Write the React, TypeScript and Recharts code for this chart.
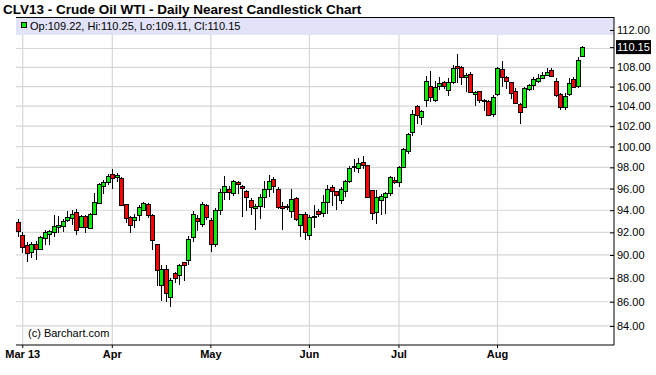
import { ComposedChart, Bar, XAxis, YAxis, CartesianGrid, ReferenceArea } from "recharts";

const UP = "#00F000";
const DOWN = "#FF0000";
const GRID = "#D6D6D6";
const FONT = "'Liberation Sans', Arial, sans-serif";

// daily OHLC, Feb 28 2013 .. Aug 28 2013
const opens = [
  92.9, 91.8, 90.9, 90.3, 90.95, 90.55, 91.5, 91.85, 92.0, 92.5,
  92.55, 93.1, 93.26, 93.8, 92.45, 93.5, 92.35, 93.7, 94.7, 96.2,
  96.65, 97.4, 97.05, 97.0, 94.55, 93.4, 93.1, 93.55, 94.05, 94.55,
  93.6, 90.95, 87.45, 88.8, 86.4, 88.4, 88.25, 89.35, 89.55, 91.6,
  93.3, 92.75, 94.45, 93.1, 91.0, 94.0, 95.65, 95.95, 95.6, 96.6,
  96.25, 95.8, 94.9, 94.2, 94.35, 95.2, 95.95, 96.9, 95.95, 94.35,
  94.25, 93.95, 95.1, 92.7, 93.64, 91.75, 93.38, 93.97, 93.73, 94.73,
  96.1, 95.75, 94.95, 95.8, 96.7, 98.0, 97.95, 98.55, 98.2, 95.88,
  93.88, 94.95, 95.2, 95.55, 96.85, 96.6, 98.05, 99.6, 101.45, 104.0,
  102.95, 104.65, 106.1, 104.65, 106.05, 106.45, 105.65, 106.5, 108.1, 108.0,
  107.0, 107.35, 105.25, 105.5, 104.6, 104.55, 103.2, 105.2, 107.85, 106.95,
  106.45, 105.6, 104.2, 103.95, 105.8, 106.15, 106.55, 106.9, 107.25, 107.75,
  106.6, 105.2, 103.9, 105.2, 106.8, 106.1, 109.22,
];
const highs = [
  93.2, 92.0, 91.1, 91.15, 91.2, 91.65, 92.2, 92.2, 93.6, 93.5,
  93.2, 93.9, 94.0, 94.1, 93.6, 93.6, 93.75, 95.6, 96.5, 96.8,
  97.35, 97.85, 97.45, 97.05, 94.6, 93.45, 93.7, 94.5, 94.8, 94.65,
  93.65, 91.0, 89.1, 89.1, 88.0, 88.55, 89.25, 89.4, 91.7, 93.9,
  93.6, 94.75, 94.6, 93.25, 94.2, 96.0, 97.15, 96.2, 96.85, 96.75,
  96.3, 95.9, 95.1, 94.55, 95.45, 96.7, 97.3, 97.1, 96.1, 94.8,
  94.6, 95.95, 95.25, 93.7, 93.8, 93.6, 94.5, 94.1, 95.4, 96.3,
  96.35, 95.8, 96.1, 96.8, 98.1, 98.8, 98.85, 99.1, 98.25, 95.9,
  95.9, 95.5, 95.7, 97.2, 97.05, 98.1, 99.85, 101.3, 103.6, 104.1,
  103.65, 107.1, 107.6, 106.6, 107.0, 106.6, 106.9, 108.2, 109.4, 108.1,
  107.4, 107.5, 105.6, 105.6, 104.7, 104.6, 105.1, 108.0, 108.7, 107.1,
  106.5, 105.85, 104.3, 106.0, 106.3, 107.0, 107.3, 107.55, 107.9, 107.9,
  106.9, 105.3, 105.3, 106.9, 106.95, 109.1, 110.25,
];
const lows = [
  91.6, 90.2, 89.35, 89.75, 89.6, 90.4, 90.9, 90.9, 91.6, 91.9,
  92.0, 92.9, 92.67, 91.8, 92.35, 91.9, 92.3, 93.65, 94.65, 95.5,
  96.35, 96.0, 96.65, 94.35, 92.8, 91.9, 92.4, 93.05, 93.9, 93.3,
  90.45, 87.3, 86.05, 86.0, 85.6, 87.6, 87.45, 87.75, 89.15, 91.1,
  92.1, 92.5, 93.1, 90.3, 90.7, 93.55, 94.95, 94.9, 95.3, 95.45,
  93.4, 93.9, 93.6, 92.2, 93.2, 94.2, 95.2, 95.6, 94.1, 92.2,
  94.0, 93.3, 93.05, 91.6, 91.3, 91.3, 92.35, 93.4, 93.4, 93.7,
  94.35, 94.05, 94.6, 95.2, 96.5, 97.6, 97.5, 97.8, 95.1, 93.1,
  92.75, 93.6, 93.65, 95.3, 96.4, 96.1, 97.9, 99.3, 101.0, 102.2,
  102.1, 103.9, 104.4, 104.4, 105.7, 105.8, 105.0, 106.3, 106.4, 106.2,
  105.4, 105.3, 104.05, 104.3, 103.5, 103.0, 102.9, 105.0, 106.0, 105.8,
  104.7, 104.25, 102.2, 103.9, 105.5, 105.7, 106.4, 106.8, 107.1, 107.0,
  104.9, 103.6, 103.6, 105.0, 105.9, 105.9, 109.11,
];
const closes = [
  92.1, 90.7, 90.2, 90.95, 90.55, 91.55, 92.0, 92.1, 92.55, 92.65,
  93.05, 93.4, 93.66, 92.2, 93.5, 92.45, 93.7, 94.8, 96.4, 96.6,
  97.2, 97.0, 97.3, 94.5, 93.3, 92.7, 93.35, 94.3, 94.65, 93.6,
  91.3, 88.7, 88.8, 86.7, 87.8, 88.05, 89.15, 89.15, 91.4, 93.7,
  93.05, 94.55, 93.4, 90.95, 94.0, 95.65, 96.2, 95.7, 96.75, 96.4,
  96.05, 95.2, 94.25, 94.4, 95.2, 96.0, 96.75, 96.2, 94.3, 94.2,
  94.4, 95.0, 93.2, 93.62, 92.0, 93.4, 93.45, 93.7, 94.8, 96.0,
  95.75, 95.4, 95.95, 96.7, 97.9, 98.1, 98.45, 98.2, 95.2, 93.72,
  95.2, 95.35, 95.55, 97.05, 96.6, 98.0, 99.75, 101.2, 103.25, 103.1,
  103.55, 106.6, 104.95, 105.95, 106.4, 106.05, 106.45, 107.95, 107.9, 107.0,
  107.25, 105.4, 105.45, 104.65, 104.5, 103.15, 104.95, 107.9, 106.95, 106.6,
  105.3, 104.35, 103.4, 105.85, 106.15, 106.8, 106.9, 107.25, 107.5, 107.05,
  105.15, 103.9, 105.05, 106.4, 106.0, 108.8, 110.15,
];

const monthTicks = [1, 21, 43, 65, 85, 107];
const monthLabels = ["Mar 13", "Apr", "May", "Jun", "Jul", "Aug"];
const priceGrid = [84, 86, 88, 90, 92, 94, 96, 98, 100, 102, 104, 106, 108, 110, 112];

const last = opens.length - 1;
const lastClose = closes[last];
const priceTicks = priceGrid.filter((v) => Math.abs(v - lastClose) > 1).concat(lastClose);

const data = opens.map((open, i) => ({
  i,
  range: [lows[i], highs[i]],
  open,
  high: highs[i],
  low: lows[i],
  close: closes[i],
}));

const Y_DOMAIN = [82.46, 113.42];
const BAND_LOW = 111.46;

function Candle(props: any) {
  const { x, y, width, height } = props;
  const p = props.payload ?? props;
  const top = Math.min(y, y + height);
  const h = Math.abs(height);
  const lh = Math.log(p.high);
  const ll = Math.log(p.low);
  // log scale: pixel is linear in ln(value)
  const py = (v: number) => (lh === ll ? top : top + (h * (lh - Math.log(v))) / (lh - ll));
  const cx = Math.round(x + width / 2) + 0.5;
  const bTop = Math.round(py(Math.max(p.open, p.close))) + 0.5;
  const bBot = Math.round(py(Math.min(p.open, p.close))) + 0.5;
  return (
    <g>
      <line x1={cx} x2={cx} y1={Math.round(top)} y2={Math.round(top + h)} stroke="#000" strokeWidth={1} />
      <rect
        x={cx - 2}
        y={bTop}
        width={4}
        height={Math.max(1, bBot - bTop)}
        fill={p.close >= p.open ? UP : DOWN}
        stroke="#000"
        strokeWidth={1}
      />
    </g>
  );
}

function PriceTick(props: any) {
  const { x, y, payload } = props;
  const v = payload.value as number;
  const isLast = v === lastClose;
  return (
    <g>
      <line x1={x - 4} x2={x} y1={y + 0.5} y2={y + 0.5} stroke="#000" />
      {isLast && <rect x={x + 2} y={y - 7} width={35} height={14} fill="#000" />}
      <text x={x + 3} y={y} dy="0.36em" fontSize={11} fontFamily={FONT} fill={isLast ? "#fff" : "#000"}>
        {v.toFixed(2)}
      </text>
    </g>
  );
}

export default function App() {
  return (
    <div style={{ position: "absolute", left: 0, top: 0, width: 656, height: 375, background: "#fff" }}>
      <ComposedChart
        width={656}
        height={375}
        data={data}
        margin={{ top: 17, right: 0, bottom: 0, left: 16 }}
      >
        <ReferenceArea yAxisId="p" x1={-0.5} x2={133} y1={BAND_LOW} y2={Y_DOMAIN[1]} fill="#E2E2F8" fillOpacity={1} stroke="none" ifOverflow="hidden" />
        <CartesianGrid yAxisId="p" stroke={GRID} strokeWidth={1.2} horizontalValues={priceGrid} verticalValues={monthTicks} />
        <XAxis
          dataKey="i"
          type="number"
          domain={[-0.5, 133]}
          allowDataOverflow
          ticks={monthTicks}
          tickFormatter={(v: number) => monthLabels[monthTicks.indexOf(v)]}
          interval={0}
          height={30}
          tickSize={3}
          tickMargin={2}
          axisLine={{ stroke: "#000" }}
          tickLine={{ stroke: "#000" }}
          tick={{ fontSize: 11, fontWeight: "bold", fill: "#000", fontFamily: FONT }}
        />
        <YAxis
          yAxisId="p"
          orientation="right"
          scale="log"
          type="number"
          domain={Y_DOMAIN}
          allowDataOverflow
          ticks={priceTicks}
          interval={0}
          width={42}
          tickSize={0}
          tickMargin={0}
          tickLine={false}
          axisLine={{ stroke: "#000" }}
          tick={<PriceTick />}
        />
        <YAxis
          yAxisId="l"
          orientation="left"
          width={0}
          domain={[0, 1]}
          tick={false}
          tickLine={false}
          axisLine={{ stroke: "#000" }}
        />
        <Bar yAxisId="p" dataKey="range" barSize={5} shape={<Candle />} isAnimationActive={false} />
      </ComposedChart>
      <svg
        width={656}
        height={375}
        style={{ position: "absolute", left: 0, top: 0, pointerEvents: "none" }}
        fontFamily={FONT}
      >
        <text x={3} y={14} fontSize={13.5} fontWeight="bold" fill="#000">
          CLV13 - Crude Oil WTI - Daily Nearest Candlestick Chart
        </text>
        <line x1={16} x2={614} y1={17.5} y2={17.5} stroke="#000" />
        <rect x={21.5} y={22.5} width={5} height={5} fill={UP} stroke="#000" />
        <text x={30} y={29.5} fontSize={11} fill="#000">
          {`Op:${opens[last].toFixed(2)}, Hi:${highs[last].toFixed(2)}, Lo:${lows[last].toFixed(2)}, Cl:${closes[last].toFixed(2)}`}
        </text>
        <text x={28} y={337} fontSize={11} fill="#000">
          (c) Barchart.com
        </text>
      </svg>
    </div>
  );
}
